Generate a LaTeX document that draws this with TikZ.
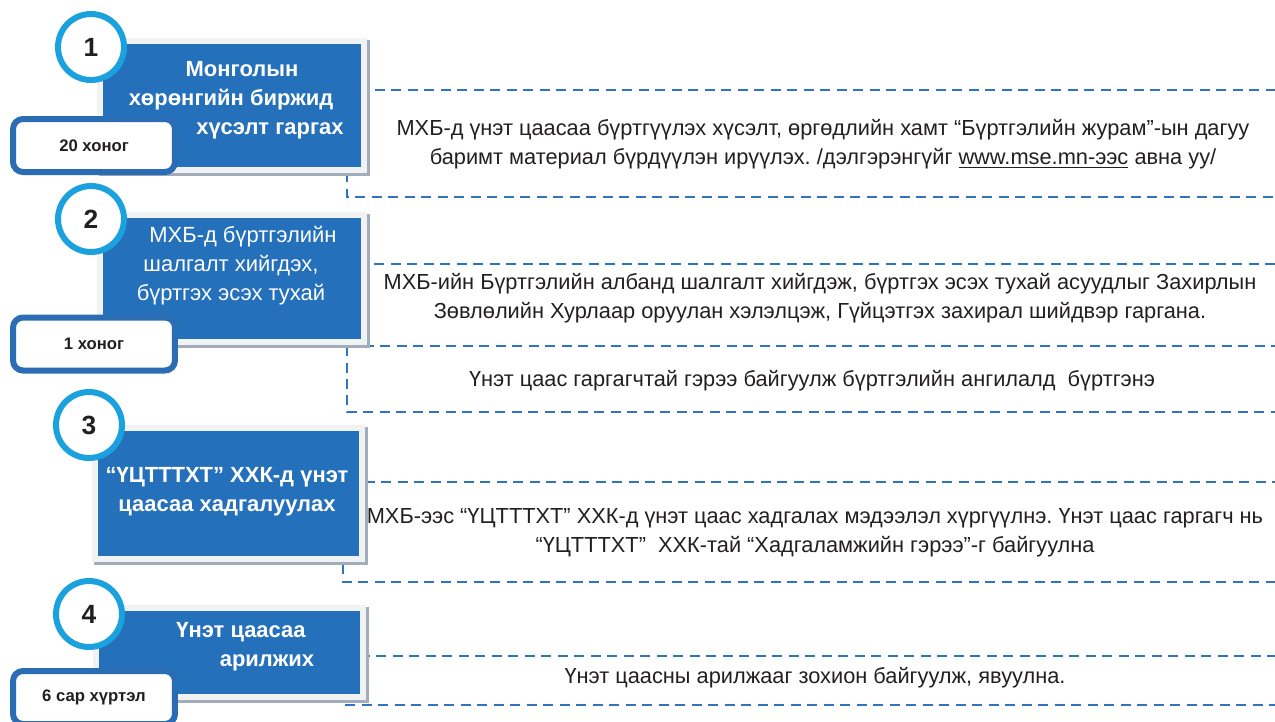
\documentclass[tikz,border=0pt]{standalone}
\usepackage{fontspec}
\setmainfont{Liberation Sans}
\usepackage{xcolor}
\usetikzlibrary{positioning,calc}
\frenchspacing

\definecolor{boxblue}{HTML}{2470BA}
\definecolor{ringblue}{HTML}{1BA1DE}
\definecolor{durblue}{HTML}{2A6DB5}
\definecolor{dashblue}{HTML}{2F74C0}
\definecolor{framegray}{HTML}{F1F2F4}
\definecolor{shadowgray}{HTML}{A3ACBA}
\definecolor{textgray}{HTML}{231F20}

\begin{document}
\begin{tikzpicture}[x=0.02cm, y=-0.02cm,
    stepbox/.style={rectangle, fill=boxblue, draw=framegray, line width=0.13cm,
        preaction={fill=shadowgray, draw=shadowgray, transform canvas={shift={(0.05cm,-0.05cm)}}}},
    boxtext/.style={text=white, align=center, font=\bfseries\fontsize{12.5}{16.5}\selectfont},
    numcircle/.style={circle, draw=ringblue, fill=white, line width=0.12cm, minimum size=1.32cm,
        inner sep=0pt, text=textgray, font=\bfseries\fontsize{15}{18}\selectfont},
    durbox/.style={rectangle, rounded corners=0.2cm, draw=durblue, fill=white, line width=0.12cm,
        minimum width=3.24cm, minimum height=1.06cm, text=textgray, font=\bfseries\fontsize{9.5}{11}\selectfont},
    desc/.style={text=textgray, align=center, font=\fontsize{12.4}{16.5}\selectfont},
    dashframe/.style={draw=dashblue, line width=0.04cm, dash pattern=on 0.2cm off 0.13cm}]
    \useasboundingbox (0,0) rectangle (1275,721);

    % dashed frames behind the boxes
    \draw[dashframe] (347,90) rectangle (1290,197);
    \draw[dashframe] (347,264) rectangle (1290,346);
    \draw[dashframe] (347,346) -- (347,412) -- (1290,412);
    \draw[dashframe] (343,482) rectangle (1290,582);
    \draw[dashframe] (345,656) rectangle (1290,705);

    % Step 1
    \node[stepbox, minimum width=5.28cm, minimum height=2.58cm] (box1) at (232,105.5) {};
    \node[boxtext] (lbl1) at (231,100) {\hspace*{0.44cm}Монголын\\хөрөнгийн биржид\\\hspace*{1.56cm}хүсэлт гаргах};
    \node[durbox] (dur1) at (94,145.5) {20 хоног};
    \node[numcircle] (num1) at (91,47) {1};
    \node[desc] (desc1) at (823,144) {МХБ-д үнэт цаасаа бүртгүүлэх хүсэлт, өргөдлийн хамт “Бүртгэлийн журам”-ын дагуу\\баримт материал бүрдүүлэн ирүүлэх. /дэлгэрэнгүйг \underline{www.mse.mn-ээс} авна уу/};

    % Step 2
    \node[stepbox, minimum width=5.28cm, minimum height=2.54cm] (box2) at (232,278.5) {};
    \node[boxtext, font=\fontsize{12.5}{16.5}\selectfont] (lbl2) at (231,266) {\hspace*{0.48cm}МХБ-д бүртгэлийн\\шалгалт хийгдэх,\\бүртгэх эсэх тухай};
    \node[durbox] (dur2) at (94,344) {1 хоног};
    \node[numcircle] (num2) at (91,219) {2};
    \node[desc] (desc2) at (820,298) {МХБ-ийн Бүртгэлийн албанд шалгалт хийгдэж, бүртгэх эсэх тухай асуудлыг Захирлын\\Зөвлөлийн Хурлаар оруулан хэлэлцэж, Гүйцэтгэх захирал шийдвэр гаргана.};
    \node[desc] (desc2b) at (812,381) {Үнэт цаас гаргагчтай гэрээ байгуулж бүртгэлийн ангилалд\ \ бүртгэнэ};

    % Step 3
    \node[stepbox, minimum width=5.34cm, minimum height=2.62cm] (box3) at (228.5,493.5) {};
    \node[boxtext] (lbl3) at (227,492) {“ҮЦТТТХТ” ХХК-д үнэт\\цаасаа хадгалуулах};
    \node[numcircle] (num3) at (89,425) {3};
    \node[desc] (desc3) at (815,533) {МХБ-ээс “ҮЦТТТХТ” ХХК-д үнэт цаас хадгалах мэдээлэл хүргүүлнэ. Үнэт цаас гаргагч нь\\“ҮЦТТТХТ”\ \ ХХК-тай “Хадгаламжийн гэрээ”-г байгуулна};

    % Step 4
    \node[stepbox, minimum width=5.34cm, minimum height=1.78cm] (box4) at (229.5,652.5) {};
    \node[boxtext] (lbl4) at (241,647) {Үнэт цаасаа\\\hspace*{1.04cm}арилжих};
    \node[durbox] (dur4) at (94,697.5) {6 сар хүртэл};
    \node[numcircle] (num4) at (89,614) {4};
    \node[desc] (desc4) at (815,678) {Үнэт цаасны арилжааг зохион байгуулж, явуулна.};
\end{tikzpicture}
\end{document}
